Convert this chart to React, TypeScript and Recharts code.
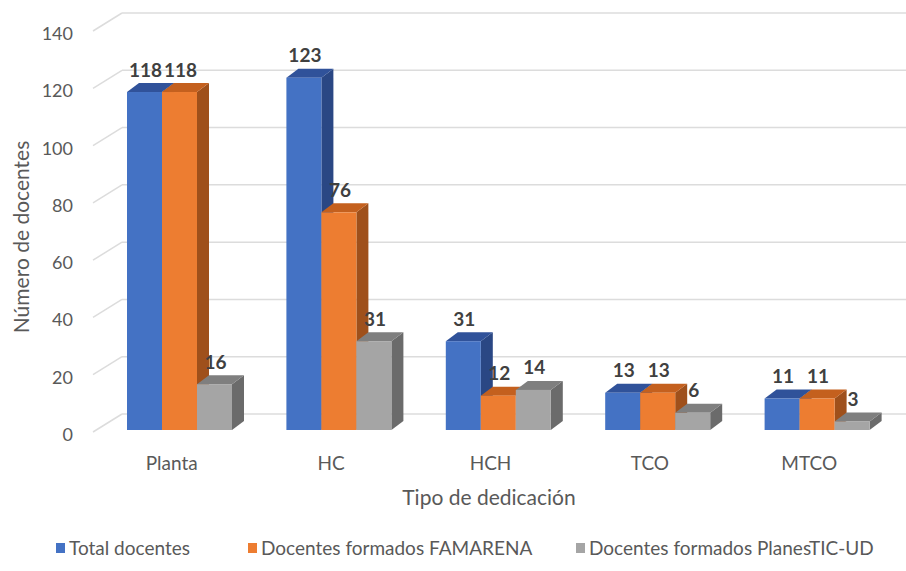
import { BarChart, Bar, XAxis, YAxis, CartesianGrid, LabelList } from "recharts";

const categories = ["Planta", "HC", "HCH", "TCO", "MTCO"];
const totalDocentes = [118, 123, 31, 13, 11];
const formadosFamarena = [118, 76, 12, 13, 11];
const formadosPlanesTic = [16, 31, 14, 6, 3];
const yTicks = [0, 20, 40, 60, 80, 100, 120, 140];

const data = categories.map((name, i) => ({
  name,
  total: totalDocentes[i],
  famarena: formadosFamarena[i],
  planes: formadosPlanesTic[i],
}));

const FONT = "Lato, 'Open Sans', sans-serif";
const TEXT = "#595959";

// depth of the fake 3D extrusion
const DX = 12;
const DY = 9;
// back wall shift relative to the front plane
const WALL_X = 122;
const WALL_DY = -16;

const make3DBar = (front: string, top: string, side: string) => (props: any) => {
  const { x, y, width, height } = props;
  const b = y + height;
  const r = x + width;
  return (
    <g>
      <polygon points={`${r},${y} ${r + DX},${y - DY} ${r + DX},${b - DY} ${r},${b}`} fill={side} />
      <polygon points={`${x},${y} ${x + DX},${y - DY} ${r + DX},${y - DY} ${r},${y}`} fill={top} />
      <rect x={x} y={y} width={width} height={height} fill={front} />
    </g>
  );
};

const renderValue = (props: any) => {
  const { x, y, width, value } = props;
  return (
    <text
      x={x + width / 2 + 1}
      y={y - 23}
      textAnchor="middle"
      dominantBaseline="central"
      fontFamily={FONT}
      fontWeight="bold"
      fontSize={19}
      fill="#404040"
    >
      {value}
    </text>
  );
};

const gridLine = (p: any) => (
  <g key={`g-${p.index}-${p.y1}`}>
    <line x1={93} y1={p.y1 + 2} x2={WALL_X} y2={p.y1 + WALL_DY} stroke="#dcdcdc" strokeWidth={1.5} />
    <line x1={WALL_X} y1={p.y1 + WALL_DY} x2={906} y2={p.y1 + WALL_DY} stroke="#dcdcdc" strokeWidth={1.5} />
  </g>
);

const YTick = (p: any) => (
  <text x={73} y={p.y + 4} textAnchor="end" dominantBaseline="central" fontFamily={FONT} fontSize={18} fill={TEXT}>
    {p.payload.value}
  </text>
);

const XTick = (p: any) => (
  <text x={p.x - 8} y={p.y + 24} textAnchor="middle" dominantBaseline="central" fontFamily={FONT} fontSize={19} fill={TEXT}>
    {p.payload.value}
  </text>
);

const YTitle = () => (
  <text
    x={20}
    y={237}
    transform="rotate(-90 20 237)"
    textAnchor="middle"
    dominantBaseline="central"
    fontFamily={FONT}
    fontSize={21}
    fill={TEXT}
  >
    Número de docentes
  </text>
);

const XTitle = () => (
  <text x={489} y={496} textAnchor="middle" dominantBaseline="central" fontFamily={FONT} fontSize={21} fill={TEXT}>
    Tipo de dedicación
  </text>
);

const legendItems = [
  { label: "Total docentes", color: "#4472C4", left: 56 },
  { label: "Docentes formados FAMARENA", color: "#ED7D31", left: 248 },
  { label: "Docentes formados PlanesTIC-UD", color: "#A5A5A5", left: 576 },
];

export default function App() {
  return (
    <div style={{ position: "absolute", left: 0, top: 0, width: 906, height: 571, background: "#fff" }}>
      <BarChart
        width={906}
        height={571}
        data={data}
        barGap={0}
        barSize={35}
        margin={{ top: 29, right: 9, left: 0, bottom: 111 }}
      >
        <CartesianGrid vertical={false} horizontal={gridLine} />
        <XAxis
          dataKey="name"
          height={30}
          axisLine={false}
          tickLine={false}
          tick={XTick}
          label={<XTitle />}
        />
        <YAxis
          width={100}
          domain={[0, 140]}
          ticks={yTicks}
          axisLine={false}
          tickLine={false}
          tick={YTick}
          label={<YTitle />}
        />
        <Bar dataKey="total" isAnimationActive={false} shape={make3DBar("#4472C4", "#30529A", "#2A4784")}>
          <LabelList dataKey="total" content={renderValue} />
        </Bar>
        <Bar dataKey="famarena" isAnimationActive={false} shape={make3DBar("#ED7D31", "#C4601E", "#9F501B")}>
          <LabelList dataKey="famarena" content={renderValue} />
        </Bar>
        <Bar dataKey="planes" isAnimationActive={false} shape={make3DBar("#A5A5A5", "#7F7F7F", "#6B6B6B")}>
          <LabelList dataKey="planes" content={renderValue} />
        </Bar>
      </BarChart>
      {legendItems.map((it) => (
        <div
          key={it.label}
          style={{
            position: "absolute",
            left: it.left,
            top: 536,
            display: "flex",
            alignItems: "center",
            fontFamily: FONT,
            fontSize: 19,
            color: TEXT,
            whiteSpace: "nowrap",
          }}
        >
          <span style={{ display: "inline-block", width: 9, height: 10, background: it.color, marginRight: 4 }} />
          {it.label}
        </div>
      ))}
    </div>
  );
}
